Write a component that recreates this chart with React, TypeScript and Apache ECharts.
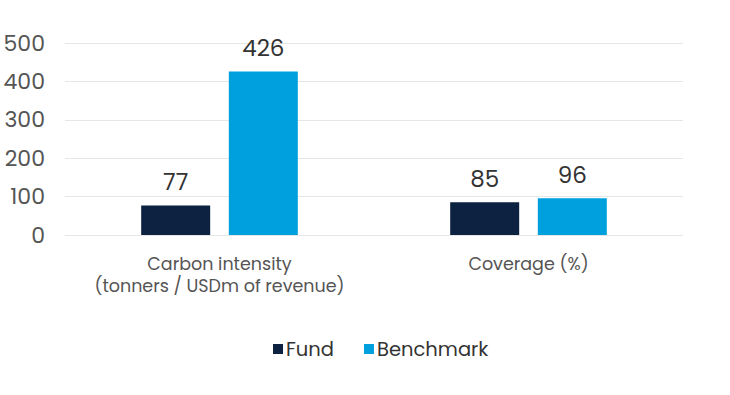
import React, { useEffect, useRef } from "react";
import * as echarts from "echarts";

const categories = ["Carbon intensity\n(tonners / USDm of revenue)", "Coverage (%)"];
const fundValues = [77, 85];
const benchmarkValues = [426, 96];
const yTicks = { min: 0, max: 500, interval: 100 };

export default function App() {
  const ref = useRef<HTMLDivElement>(null);
  useEffect(() => {
    const chart = echarts.init(ref.current!, undefined, { renderer: "svg" });
    const font = "Poppins, Inter, 'Open Sans', sans-serif";
    chart.setOption({
      animation: false,
      textStyle: { fontFamily: font },
      grid: { left: 65, right: 47, top: 43, bottom: 160, containLabel: false },
      legend: {
        bottom: 31,
        left: 268,
        itemWidth: 10,
        itemHeight: 10,
        itemGap: 30,
        icon: "rect",
        textStyle: { fontSize: 19.5, color: "#333", fontFamily: font, padding: [0, 0, 0, -2] },
        data: ["Fund", "Benchmark"],
      },
      xAxis: {
        type: "category",
        data: categories,
        axisLine: { show: false },
        axisTick: { show: false },
        axisLabel: { interval: 0, hideOverlap: false, fontSize: 17.5, color: "#555", lineHeight: 22, margin: 18, fontFamily: font },
      },
      yAxis: {
        type: "value",
        min: yTicks.min,
        max: yTicks.max,
        interval: yTicks.interval,
        axisLabel: { fontSize: 22, color: "#555", margin: 20, fontFamily: font },
        splitLine: { lineStyle: { color: "#e6e6e6", width: 1 } },
      },
      series: [
        {
          name: "Fund",
          type: "bar",
          data: fundValues,
          barWidth: 69,
          barGap: "27%",
          itemStyle: { color: "#0d2240" },
          label: { show: true, position: "top", distance: 12, fontSize: 23, color: "#333", fontFamily: font },
        },
        {
          name: "Benchmark",
          type: "bar",
          data: benchmarkValues,
          barWidth: 69,
          itemStyle: { color: "#00a0df" },
          label: { show: true, position: "top", distance: 12, fontSize: 23, color: "#333", fontFamily: font },
        },
      ],
    });
    return () => chart.dispose();
  }, []);
  return <div ref={ref} style={{ width: 730, height: 395, position: "absolute", left: 0, top: 0 }} />;
}
